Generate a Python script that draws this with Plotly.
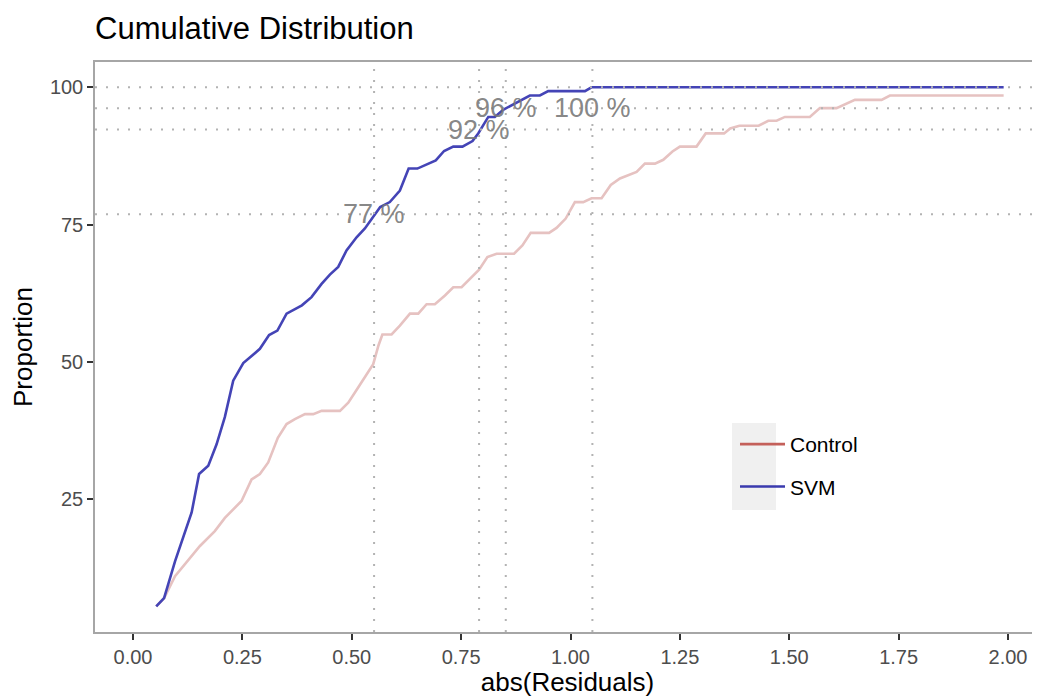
import plotly.graph_objects as go

# ---- data ----
svm_x = [0.053, 0.071, 0.096, 0.134, 0.151, 0.172, 0.191, 0.210, 0.229, 0.252, 0.267, 0.290,
         0.311, 0.330, 0.351, 0.386, 0.408, 0.431, 0.450, 0.469, 0.488, 0.511, 0.530, 0.546,
         0.565, 0.587, 0.610, 0.630, 0.650, 0.692, 0.711, 0.732, 0.753, 0.776, 0.789, 0.812,
         0.827, 0.846, 0.866, 0.888, 0.907, 0.930, 0.949, 1.033, 1.048, 1.990]
svm_y = [5.5, 7.0, 13.7, 22.6, 29.6, 31.1, 35.0, 40.0, 46.6, 49.8, 50.8, 52.4,
         54.9, 55.7, 58.8, 60.3, 61.8, 64.2, 65.9, 67.3, 70.3, 72.7, 74.3, 76.1,
         78.2, 79.1, 81.2, 85.2, 85.2, 86.7, 88.4, 89.2, 89.2, 90.2, 91.6, 94.6,
         94.6, 95.9, 96.8, 97.7, 98.5, 98.5, 99.3, 99.3, 100.0, 100.0]

ctrl_x = [0.053, 0.071, 0.096, 0.130, 0.153, 0.187, 0.210, 0.248, 0.271, 0.290, 0.309, 0.331,
          0.351, 0.370, 0.393, 0.412, 0.431, 0.473, 0.492, 0.515, 0.534, 0.549, 0.561, 0.570,
          0.591, 0.610, 0.633, 0.652, 0.671, 0.690, 0.713, 0.732, 0.751, 0.770, 0.791, 0.810,
          0.831, 0.871, 0.890, 0.909, 0.951, 0.968, 0.989, 1.010, 1.029, 1.048, 1.071, 1.092,
          1.113, 1.151, 1.170, 1.193, 1.212, 1.233, 1.250, 1.288, 1.309, 1.351, 1.365, 1.386,
          1.430, 1.452, 1.471, 1.490, 1.547, 1.570, 1.608, 1.650, 1.711, 1.730, 1.990]
ctrl_y = [5.5, 7.0, 11.0, 14.3, 16.5, 19.2, 21.6, 24.7, 28.6, 29.6, 31.7, 36.2,
          38.7, 39.6, 40.5, 40.5, 41.1, 41.1, 42.6, 45.4, 47.8, 49.6, 53.0, 55.0,
          55.0, 56.6, 58.8, 58.8, 60.5, 60.5, 62.1, 63.6, 63.6, 65.1, 66.8, 69.1,
          69.7, 69.7, 71.2, 73.5, 73.5, 74.4, 76.1, 79.1, 79.1, 79.8, 79.8, 82.2,
          83.4, 84.6, 86.1, 86.1, 86.8, 88.3, 89.2, 89.2, 91.6, 91.6, 92.5, 93.0,
          93.0, 93.9, 93.9, 94.6, 94.6, 96.2, 96.2, 97.7, 97.7, 98.5, 98.5]

ref_x = [0.551, 0.791, 0.852, 1.050]          # vertical reference lines
ref_y = [76.9, 92.3, 96.2, 100.0]             # horizontal reference lines
label_y = [76.9, 92.3, 96.2, 96.2]            # where the percentage labels sit
ref_labels = ["77 %", "92 %", "96 %", "100 %"]

x_ticks = [0.0, 0.25, 0.5, 0.75, 1.0, 1.25, 1.5, 1.75, 2.0]
x_ticktext = ["0.00", "0.25", "0.50", "0.75", "1.00", "1.25", "1.50", "1.75", "2.00"]
y_ticks = [25, 50, 75, 100]

series_names = ["Control", "SVM"]
legend_colors = ["#c4605a", "#3a3aae"]

FONT = "Liberation Sans, Arial, sans-serif"

# page has an 8px body margin: figure coordinates = page coordinates - 8
OFF = 8
FW, FH = 1040 - OFF, 697 - OFF
L, T, W, H = 95 - OFF, 62 - OFF, 945, 570

def px_x(p):   # page pixel -> paper x
    return (p - OFF - L) / W
def px_y(p):   # page pixel -> paper y
    return 1 - (p - OFF - T) / H

fig = go.Figure()

fig.add_trace(go.Scatter(x=ctrl_x, y=ctrl_y, mode="lines", showlegend=False,
                         line=dict(color="#e6c2c1", width=2.6), hoverinfo="skip"))
fig.add_trace(go.Scatter(x=svm_x, y=svm_y, mode="lines", showlegend=False,
                         line=dict(color="#4444b6", width=2.6), hoverinfo="skip"))

# legend-only entries
for name, col in zip(series_names, legend_colors):
    fig.add_trace(go.Scatter(x=[None], y=[None], mode="lines", name=name, legendgroup=name,
                             line=dict(color=col, width=2.6)))

# reference lines
for xv in ref_x:
    fig.add_shape(type="line", xref="x", yref="paper", x0=xv, x1=xv, y0=0, y1=1,
                  line=dict(color="#b3b3b3", width=2, dash="2px,9px"), layer="above")
for yv in ref_y:
    fig.add_shape(type="line", xref="paper", yref="y", x0=0, x1=1, y0=yv, y1=yv,
                  line=dict(color="#b3b3b3", width=2, dash="2px,9px"), layer="above")

for xv, yv, lab in zip(ref_x, label_y, ref_labels):
    fig.add_annotation(x=xv, y=yv, text=lab, showarrow=False, xanchor="center", yanchor="middle",
                       font=dict(family=FONT, size=27, color="rgba(120,120,120,0.9)"))

# legend key background
fig.add_shape(type="rect", xref="paper", yref="paper", x0=px_x(732), x1=px_x(776),
              y0=px_y(510), y1=px_y(423), fillcolor="#f0f0f0", line=dict(width=0), layer="below")

fig.update_layout(
    width=FW, height=FH,
    margin=dict(l=L, r=FW - L - W, t=T, b=FH - T - H, autoexpand=False),
    paper_bgcolor="white", plot_bgcolor="white",
    font=dict(family=FONT, color="black"),
    title=dict(text="Cumulative Distribution", x=0, xref="paper", xanchor="left",
               y=1 - 20 / FH, yref="container", yanchor="middle", pad=dict(l=0),
               font=dict(size=31, color="black", family=FONT)),
    showlegend=True,
    legend=dict(x=px_x(735), y=px_y(424), xanchor="left", yanchor="top",
                bgcolor="rgba(0,0,0,0)", font=dict(size=21, color="black", family=FONT),
                tracegroupgap=12, itemwidth=45),
    xaxis=dict(range=[-0.0869, 2.0731], tickvals=x_ticks, ticktext=x_ticktext,
               showgrid=False, zeroline=False, showline=True, mirror=True, automargin=False,
               linecolor="#a6a6a6", linewidth=1.5,
               ticks="outside", ticklen=6, tickwidth=1.5, tickcolor="#333333",
               tickfont=dict(size=20, color="#4d4d4d", family=FONT),
               title=dict(text="abs(Residuals)", font=dict(size=26, color="black", family=FONT),
                          standoff=6)),
    yaxis=dict(range=[0.84, 104.6], tickvals=y_ticks,
               showgrid=False, zeroline=False, showline=True, mirror=True, automargin=False,
               linecolor="#a6a6a6", linewidth=1.5,
               ticks="outside", ticklen=6, tickwidth=1.5, tickcolor="#333333",
               tickfont=dict(size=20, color="#4d4d4d", family=FONT),
               title=dict(text="Proportion", font=dict(size=26, color="black", family=FONT),
                          standoff=12)),
)

fig.write_html("out.html")
